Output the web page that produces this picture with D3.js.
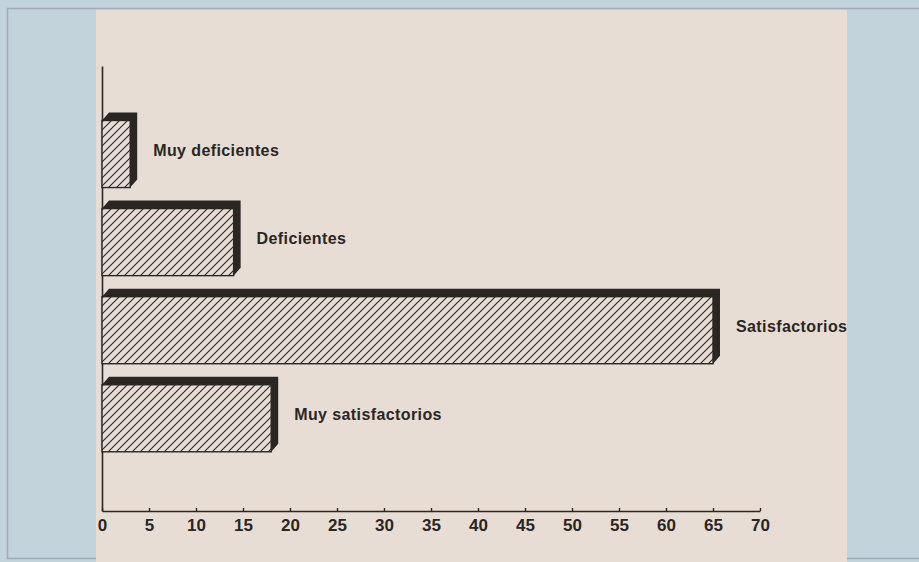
<!DOCTYPE html>
<html>
<head>
<meta charset="utf-8">
<script src="https://cdn.jsdelivr.net/npm/d3@7"></script>
<style>
  body { margin: 0; background: #c3d3dc; }
  svg { display: block; }
</style>
</head>
<body>
<div class="grafico"></div>
<script>
// datos del gráfico
var categorias = ["Muy deficientes", "Deficientes", "Satisfactorios", "Muy satisfactorios"];
var valores = [3, 14, 65, 18];
var ticks = [0, 5, 10, 15, 20, 25, 30, 35, 40, 45, 50, 55, 60, 65, 70];

var width = 919;
var height = 562;
var tinta = "#2a2624";

var svg = d3.select(".grafico")
  .append("svg")
    .attr("width", width)
    .attr("height", height);

// marco exterior y panel beige
svg.append("rect")
  .attr("x", 0).attr("y", 0).attr("width", width).attr("height", height)
  .attr("fill", "#c3d3dc");
svg.append("rect")
  .attr("x", 7.5).attr("y", 8.5).attr("width", 920).attr("height", 550)
  .attr("fill", "none").attr("stroke", "#a3a9ba").attr("stroke-width", 1.5);
svg.append("rect")
  .attr("x", 96).attr("y", 10).attr("width", 751).attr("height", 552)
  .attr("fill", "#e7ddd4");

// rayado de las barras
var defs = svg.append("defs");
defs.append("pattern")
  .attr("id", "rayado")
  .attr("patternUnits", "userSpaceOnUse")
  .attr("width", 8).attr("height", 8)
  .append("path")
    .attr("d", "M-2,2 L2,-2 M0,8 L8,0 M6,10 L10,6")
    .attr("stroke", tinta)
    .attr("stroke-width", 1.1);

// escalas
var x = d3.scaleLinear()
  .domain([0, 70])
  .range([102, 760]);

var y = d3.scaleBand()
  .domain(categorias)
  .range([66, 511])
  .paddingInner(0.148)
  .paddingOuter(0.6)
  .align(0.44);

var dx = 7, dy = 8;
var datos = categorias.map(function(c, i){ return { cat: c, val: valores[i] }; });

// ejes
var ejeY = svg.append("g")
  .attr("transform", "translate(" + x(0) + ",0)")
  .call(d3.axisLeft(y).tickSize(0).tickFormat(""));
ejeY.select(".domain").attr("stroke", tinta).attr("stroke-width", 1.6);

var ejeX = svg.append("g")
  .attr("transform", "translate(0," + y.range()[1] + ")")
  .call(d3.axisBottom(x).tickValues(ticks).tickSizeInner(-3).tickSizeOuter(0).tickPadding(8));
ejeX.select(".domain").attr("stroke", tinta).attr("stroke-width", 1.6);
ejeX.selectAll(".tick line").attr("stroke", tinta).attr("stroke-width", 1.4);
ejeX.selectAll(".tick text")
  .attr("fill", tinta)
  .style("font-family", "'Liberation Sans', Arial, sans-serif")
  .style("font-weight", "bold")
  .style("font-size", "17px");

// barras: lado sombreado (profundidad) + cara rayada
var barras = svg.append("g").selectAll("g")
  .data(datos)
  .enter()
  .append("g");

barras.append("path")
  .attr("d", function(d){
    var x0 = x(0), x1 = x(d.val);
    var t = y(d.cat), b = y(d.cat) + y.bandwidth();
    return "M" + x0 + "," + (t + dy) +
           "L" + (x0 + dx) + "," + t +
           "L" + (x1 + dx) + "," + t +
           "L" + (x1 + dx) + "," + (b - dy) +
           "L" + x1 + "," + b + "Z";
  })
  .attr("fill", tinta);

barras.append("rect")
  .attr("x", function(d){ return x(0); })
  .attr("y", function(d){ return y(d.cat) + dy; })
  .attr("width", function(d){ return x(d.val) - x(0); })
  .attr("height", y.bandwidth() - dy)
  .attr("fill", "#e7ddd4");

barras.append("rect")
  .attr("x", function(d){ return x(0); })
  .attr("y", function(d){ return y(d.cat) + dy; })
  .attr("width", function(d){ return x(d.val) - x(0); })
  .attr("height", y.bandwidth() - dy)
  .attr("fill", "url(#rayado)")
  .attr("stroke", tinta)
  .attr("stroke-width", 1.4);

// etiquetas
barras.append("text")
  .attr("x", function(d){ return x(d.val) + dx + 16; })
  .attr("y", function(d){ return y(d.cat) + y.bandwidth() / 2; })
  .attr("dy", "0.35em")
  .attr("fill", tinta)
  .style("font-family", "'Liberation Sans', Arial, sans-serif")
  .style("font-weight", "bold")
  .style("font-size", "16px")
  .style("letter-spacing", "0.4px")
  .text(function(d){ return d.cat; });
</script>
</body>
</html>
